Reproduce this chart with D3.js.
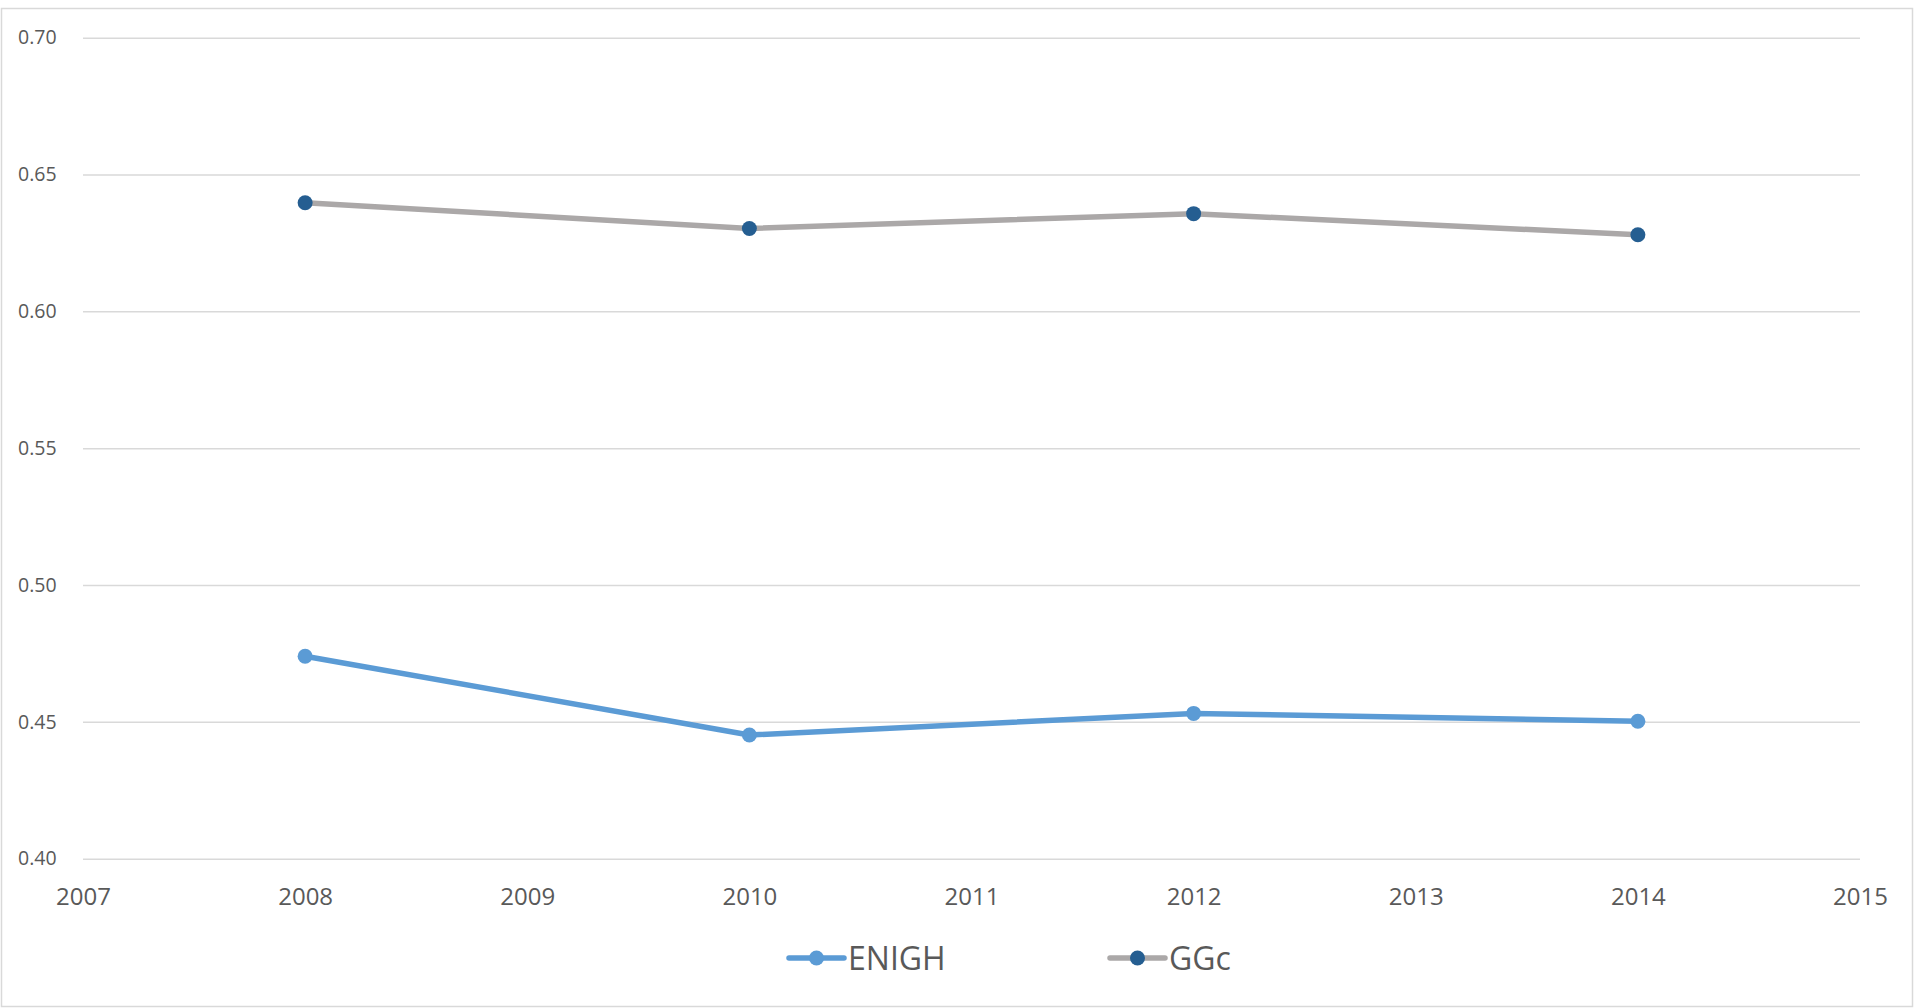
<!DOCTYPE html>
<html>
<head>
<meta charset="utf-8">
<script src="https://cdn.jsdelivr.net/npm/d3@7"></script>
<style>
  html, body { margin: 0; padding: 0; background: #fff; }
  svg { display: block; }
  text { font-family: "Open Sans", "Noto Sans", sans-serif; fill: #595959; }
</style>
</head>
<body>
<svg id="chart" width="1915" height="1008"></svg>
<script>
// Survey years and Gini values per source
const years = [2008, 2010, 2012, 2014];
const enigh = [0.474, 0.4452, 0.4531, 0.4502];
const ggc = [0.6397, 0.6303, 0.6357, 0.628];
const yTicks = [0.40, 0.45, 0.50, 0.55, 0.60, 0.65, 0.70];
const xTicks = [2007, 2008, 2009, 2010, 2011, 2012, 2013, 2014, 2015];

const series = [
  { name: "ENIGH", values: enigh, line: "#5B9BD5", marker: "#5B9BD5" },
  { name: "GGc", values: ggc, line: "#ABA8A8", marker: "#255E91" }
];

const svg = d3.select("#chart");
const W = 1915, H = 1008;

// outer chart frame
svg.append("rect")
  .attr("x", 1.5).attr("y", 8.5)
  .attr("width", W - 4).attr("height", H - 10)
  .attr("fill", "none").attr("stroke", "#D9D9D9").attr("stroke-width", 1.5);

const x = d3.scaleLinear().domain([2007, 2015]).range([83, 1860]);
const y = d3.scaleLinear().domain([0.40, 0.70]).range([858.7, 37.7]);

// horizontal gridlines
const yAxis = d3.axisLeft(y).tickValues(yTicks).tickFormat(d3.format(".2f"))
  .tickSize(-(1860 - 83)).tickPadding(22);
const gy = svg.append("g").attr("transform", "translate(83,0)").call(yAxis);
gy.select(".domain").remove();
gy.selectAll(".tick line").attr("stroke", "#D9D9D9").attr("stroke-width", 1.5);
gy.selectAll(".tick text").style("font-size", "19.5px").attr("fill", "#595959")
  .attr("text-anchor", "start").attr("x", -65);

// year axis labels
const xAxis = d3.axisBottom(x).tickValues(xTicks).tickFormat(d3.format("d"))
  .tickSize(0).tickPadding(29);
const gx = svg.append("g").attr("transform", "translate(0,858.7)").call(xAxis);
gx.select(".domain").remove();
gx.selectAll(".tick text").style("font-size", "24px").attr("fill", "#595959");

const line = d3.line().x((d, i) => x(years[i])).y(d => y(d));

series.forEach(s => {
  svg.append("path")
    .datum(s.values)
    .attr("d", line)
    .attr("fill", "none")
    .attr("stroke", s.line)
    .attr("stroke-width", 5.5)
    .attr("stroke-linejoin", "round")
    .attr("stroke-linecap", "round");
  svg.append("g").selectAll("circle")
    .data(s.values)
    .join("circle")
    .attr("cx", (d, i) => x(years[i]))
    .attr("cy", d => y(d))
    .attr("r", 7.5)
    .attr("fill", s.marker);
});

// legend
const legendX = [789, 1110];
const legendY = 958;
series.forEach((s, i) => {
  const g = svg.append("g").attr("transform", `translate(${legendX[i]},${legendY})`);
  g.append("line").attr("x1", 0).attr("x2", 55).attr("y1", 0).attr("y2", 0)
    .attr("stroke", s.line).attr("stroke-width", 5.5).attr("stroke-linecap", "round");
  g.append("circle").attr("cx", 27.5).attr("cy", 0).attr("r", 7.5).attr("fill", s.marker);
  g.append("text").attr("x", 59).attr("y", 0).attr("dy", "0.36em")
    .style("font-size", "32px").text(s.name);
});
</script>
</body>
</html>
